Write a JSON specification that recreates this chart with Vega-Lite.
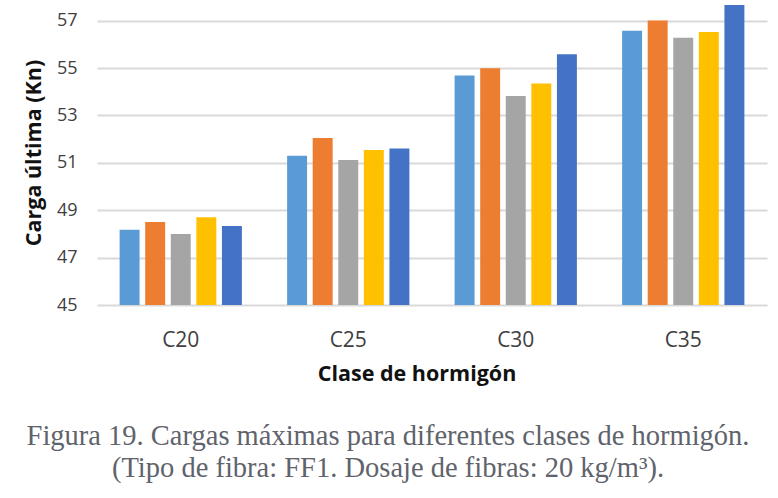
{
  "$schema": "https://vega.github.io/schema/vega-lite/v6.json",
  "width": 670,
  "height": 305,
  "autosize": "none",
  "padding": {"left": 97, "top": 0, "right": 11, "bottom": 193},
  "background": "white",
  "title": {
    "text": ["Figura 19.  Cargas máximas para diferentes clases de hormigón.", "(Tipo de fibra: FF1. Dosaje de fibras: 20 kg/m³)."],
    "orient": "bottom",
    "anchor": "middle",
    "frame": "group",
    "dx": -44,
    "offset": 37,
    "font": "Liberation Serif",
    "fontSize": 28.5,
    "fontWeight": "normal",
    "lineHeight": 32,
    "color": "#5f636b"
  },
  "data": {
    "values": [
      {"clase": "C20", "serie": "Serie 1", "carga": 48.18},
      {"clase": "C20", "serie": "Serie 2", "carga": 48.5},
      {"clase": "C20", "serie": "Serie 3", "carga": 48.0},
      {"clase": "C20", "serie": "Serie 4", "carga": 48.7},
      {"clase": "C20", "serie": "Serie 5", "carga": 48.33},
      {"clase": "C25", "serie": "Serie 1", "carga": 51.3},
      {"clase": "C25", "serie": "Serie 2", "carga": 52.05},
      {"clase": "C25", "serie": "Serie 3", "carga": 51.12},
      {"clase": "C25", "serie": "Serie 4", "carga": 51.54},
      {"clase": "C25", "serie": "Serie 5", "carga": 51.6},
      {"clase": "C30", "serie": "Serie 1", "carga": 54.68},
      {"clase": "C30", "serie": "Serie 2", "carga": 54.99},
      {"clase": "C30", "serie": "Serie 3", "carga": 53.82},
      {"clase": "C30", "serie": "Serie 4", "carga": 54.35},
      {"clase": "C30", "serie": "Serie 5", "carga": 55.58},
      {"clase": "C35", "serie": "Serie 1", "carga": 56.57},
      {"clase": "C35", "serie": "Serie 2", "carga": 57.0},
      {"clase": "C35", "serie": "Serie 3", "carga": 56.28},
      {"clase": "C35", "serie": "Serie 4", "carga": 56.52},
      {"clase": "C35", "serie": "Serie 5", "carga": 57.66}
    ]
  },
  "mark": {"type": "bar"},
  "encoding": {
    "x": {
      "field": "clase",
      "type": "nominal",
      "scale": {"paddingInner": 0.27, "paddingOuter": 0.135},
      "axis": {
        "title": "Clase de hormigón",
        "labelAngle": 0,
        "domain": false,
        "ticks": false,
        "labelPadding": 24,
        "labelFont": "Open Sans",
        "labelFontSize": 21,
        "labelColor": "#404040",
        "titleFont": "Open Sans",
        "titleFontSize": 21.5,
        "titleFontWeight": "bold",
        "titleColor": "#111111",
        "titlePadding": 13,
        "titleX": 319.5
      }
    },
    "xOffset": {
      "field": "serie",
      "type": "nominal",
      "scale": {"paddingInner": 0.22, "paddingOuter": 0}
    },
    "y": {
      "field": "carga",
      "type": "quantitative",
      "scale": {"domain": [45, 57.87], "nice": false, "zero": false},
      "axis": {
        "title": "Carga última (Kn)",
        "values": [45, 47, 49, 51, 53, 55, 57],
        "grid": true,
        "gridColor": "#d9d9d9",
        "gridWidth": 2,
        "domain": false,
        "ticks": false,
        "labelPadding": 20,
        "labelFont": "Open Sans",
        "labelFontSize": 18,
        "labelColor": "#404040",
        "titleFont": "Open Sans",
        "titleFontSize": 21.5,
        "titleFontWeight": "bold",
        "titleColor": "#111111",
        "titlePadding": 11
      }
    },
    "y2": {"datum": 45},
    "color": {
      "field": "serie",
      "type": "nominal",
      "scale": {"range": ["#5B9BD5", "#ED7D31", "#A5A5A5", "#FFC000", "#4472C4"]},
      "legend": null
    }
  },
  "config": {
    "view": {"stroke": null}
  }
}
